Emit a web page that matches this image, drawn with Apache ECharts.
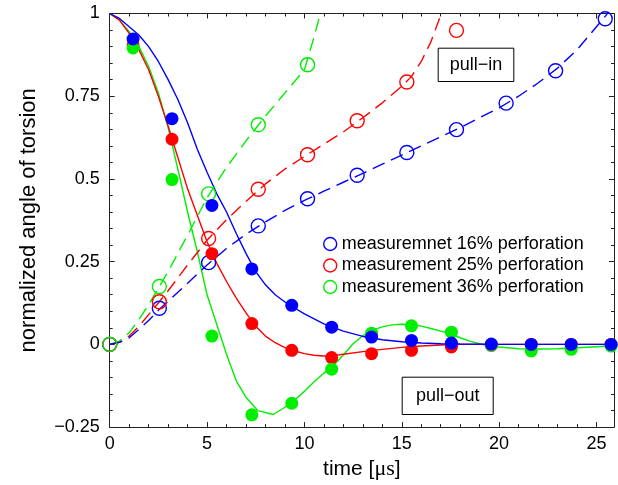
<!DOCTYPE html>
<html>
<head>
<meta charset="utf-8">
<script src="https://cdn.jsdelivr.net/npm/echarts@6/dist/echarts.min.js"></script>
<style>
html,body{margin:0;padding:0;background:#fff;}
#chart{width:618px;height:485px;}
</style>
</head>
<body>
<div id="chart"></div>
<script>
// ---- measured points (filled = pull-out, hollow = pull-in) ----
const tFilled = [1.2, 3.2, 5.25, 7.3, 9.35, 11.4, 13.45, 15.5, 17.55, 19.6, 21.65, 23.7, 25.75];
const blueFilled  = [0.923, 0.682, 0.42, 0.228, 0.118, 0.052, 0.022, 0.012, 0.004, 0.001, 0, 0, 0];
const redFilled   = [0.905, 0.62, 0.274, 0.063, -0.018, -0.04, -0.028, -0.018, -0.008, -0.003, 0, 0, 0];
const greenFilled = [0.896, 0.498, 0.025, -0.213, -0.178, -0.075, 0.034, 0.056, 0.037, -0.002, -0.02, -0.015, -0.005];

const tHollow = [0, 2.55, 5.08, 7.63, 10.16, 12.71, 15.26, 17.81, 20.36, 22.9, 25.45];
const blueHollow  = [0, 0.109, 0.247, 0.358, 0.44, 0.511, 0.58, 0.649, 0.729, 0.827, 0.984];
const redHollow   = [0, 0.129, 0.32, 0.469, 0.573, 0.676, 0.793, 0.949];
const greenHollow = [0, 0.175, 0.455, 0.664, 0.845];

// ---- model curves: solid (pull-out) ----
const blueSolidT = [0,0.5,1,1.5,2,2.5,3,3.5,4,4.5,5,5.5,6,6.5,7,7.5,8,8.5,9,9.5,10,11,12,13,14,15,16,17,18,20,22,24,26];
const blueSolidY = [1,0.985,0.96,0.935,0.9,0.855,0.8,0.74,0.67,0.59,0.52,0.455,0.4,0.335,0.275,0.22,0.18,0.15,0.128,0.11,0.092,0.062,0.04,0.024,0.014,0.008,0.004,0.002,0.001,0,0,0,0];
const redSolidT = [0,0.5,1,1.5,2,2.5,3,3.5,4,4.5,5,5.5,6,6.5,7,7.5,8,8.5,9,9.5,10,10.5,11,11.5,12,13,14,15,16,17,18,20,22,24,26];
const redSolidY = [1,0.98,0.94,0.89,0.83,0.75,0.66,0.565,0.47,0.39,0.31,0.245,0.19,0.14,0.095,0.055,0.025,0.005,-0.01,-0.02,-0.028,-0.033,-0.035,-0.034,-0.03,-0.022,-0.015,-0.009,-0.005,-0.002,0,0,0,0,0];
const greenSolidT = [0,0.5,1,1.5,2,2.5,3,3.5,4,4.5,5,5.5,6,6.5,7,7.6,8.4,9,9.5,10,10.5,11,11.5,12,12.5,13,13.5,14,14.5,15,15.5,16,16.5,17,17.5,18,18.5,19,19.5,20,21,22,23,24,25,26];
const greenSolidY = [1,0.98,0.945,0.9,0.84,0.76,0.655,0.53,0.4,0.28,0.15,0.06,-0.03,-0.11,-0.16,-0.2,-0.212,-0.19,-0.168,-0.142,-0.113,-0.087,-0.063,-0.032,0.002,0.026,0.043,0.053,0.059,0.061,0.06,0.055,0.048,0.04,0.032,0.02,0.01,0.002,-0.004,-0.008,-0.013,-0.014,-0.013,-0.01,-0.007,-0.005];

// ---- model curves: dashed (pull-in) ----
const blueDashT = [0,0.5,1,1.5,2,2.5,3,4,5,6,7,8,9,10,11,12,13,14,15,16,17,18,19,20,21,22,23,24,24.5,25,25.5,26];
const blueDashY = [0,0.006,0.02,0.045,0.072,0.103,0.13,0.185,0.24,0.29,0.333,0.37,0.405,0.435,0.463,0.49,0.517,0.545,0.572,0.6,0.627,0.655,0.685,0.715,0.75,0.79,0.835,0.89,0.925,0.96,0.995,1.04];
const redDashT = [0,0.5,1,1.5,2,2.5,3,4,5,6,7,8,9,10,11,12,13,14,15,15.5,16,16.5,17,17.3];
const redDashY = [0,0.006,0.025,0.055,0.09,0.125,0.162,0.24,0.315,0.377,0.432,0.485,0.53,0.568,0.605,0.642,0.685,0.73,0.78,0.81,0.855,0.915,0.995,1.05];
const greenDashT = [0,0.5,1,1.5,2,2.5,3,4,5,6,7,8,9,10,10.5,11];
const greenDashY = [0,0.01,0.035,0.075,0.12,0.17,0.22,0.33,0.443,0.535,0.615,0.69,0.76,0.83,0.93,1.04];

// ---- labels ----
const legendNames = ['measuremnet 16% perforation', 'measurement 25% perforation', 'measurement 36% perforation'];
const yTickValues = [-0.25, 0, 0.25, 0.5, 0.75, 1];
const yTickLabels = ['\u22120.25', '0', '0.25', '0.5', '0.75', '1'];
const xTickLabels = ['0', '5', '10', '15', '20', '25'];

const BLUE = '#0000ff', RED = '#ff0000', GREEN = '#00ee00';
const FONT = 'Liberation Sans, Arial, Helvetica, sans-serif';

function zip(a, b) { return a.map((v, i) => [v, b[i]]); }
function zipN(a, b) { return b.map((v, i) => [a[i], v]); }

function solid(t, y, c) {
  return { type: 'line', data: zip(t, y), showSymbol: false, symbol: 'none', silent: true,
    lineStyle: { color: c, width: 1.4 }, z: 2, animation: false };
}
function dashed(t, y, c) {
  return { type: 'line', data: zip(t, y), showSymbol: false, symbol: 'none', silent: true,
    lineStyle: { color: c, width: 1.4, type: [13, 7] }, z: 2, animation: false };
}
function hollow(name, t, y, c) {
  return { type: 'scatter', name: name, data: zipN(t, y), symbol: 'circle', symbolSize: 14,
    itemStyle: { color: 'rgba(255,255,255,0)', borderColor: c, borderWidth: 1.4, opacity: 1 }, z: 3, animation: false };
}
function filled(t, y, c) {
  return { type: 'scatter', data: zip(t, y), symbol: 'circle', symbolSize: 13,
    itemStyle: { color: c, opacity: 1 }, z: 4, animation: false };
}

const axisLine = { show: true, onZero: false, lineStyle: { color: '#222', width: 1 } };

const chart = echarts.init(document.getElementById('chart'), null, { renderer: 'canvas' });
chart.setOption({
  backgroundColor: '#fff',
  animation: false,
  grid: { left: 109.7, right: 4, top: 13.5, bottom: 50, containLabel: false },
  xAxis: [
    { type: 'value', min: 0, max: 25.9, interval: 5, position: 'bottom',
      name: 'time [{s|\u03bcs}]', nameLocation: 'middle', nameGap: 18,
      nameTextStyle: { fontFamily: FONT, fontSize: 21, color: '#000',
        rich: { s: { fontFamily: 'Liberation Serif, Times New Roman, serif', fontSize: 22, color: '#000' } } },
      axisLine: axisLine,
      axisTick: { show: true, inside: true, length: 5, lineStyle: { color: '#222' } },
      minorTick: { show: true, splitNumber: 5, length: 3, lineStyle: { color: '#222' } },
      splitLine: { show: false },
      axisLabel: { fontFamily: FONT, fontSize: 18, color: '#000', margin: 8,
        formatter: v => { const i = Math.round(v / 5); return (Math.abs(v - i * 5) < 1e-6 && xTickLabels[i] !== undefined) ? xTickLabels[i] : ''; } } },
    { type: 'value', min: 0, max: 25.9, interval: 5, position: 'top',
      axisLine: axisLine,
      axisTick: { show: true, inside: true, length: 5, lineStyle: { color: '#222' } },
      minorTick: { show: true, splitNumber: 5, length: 3, lineStyle: { color: '#222' } },
      splitLine: { show: false }, axisLabel: { show: false } }
  ],
  yAxis: [
    { type: 'value', min: -0.25, max: 1, interval: 0.25, position: 'left',
      name: 'normalized angle of torsion', nameLocation: 'middle', nameGap: 70, nameRotate: 90,
      nameTextStyle: { fontFamily: FONT, fontSize: 22, color: '#000' },
      axisLine: axisLine,
      axisTick: { show: true, inside: true, length: 5, lineStyle: { color: '#222' } },
      minorTick: { show: true, splitNumber: 5, length: 3, lineStyle: { color: '#222' } },
      splitLine: { show: false },
      axisLabel: { fontFamily: FONT, fontSize: 18, color: '#000', margin: 10,
        formatter: v => { const i = yTickValues.findIndex(t => Math.abs(t - v) < 1e-6); return i >= 0 ? yTickLabels[i] : ''; } } },
    { type: 'value', min: -0.25, max: 1, interval: 0.25, position: 'right',
      axisLine: axisLine,
      axisTick: { show: true, inside: true, length: 5, lineStyle: { color: '#222' } },
      minorTick: { show: true, splitNumber: 5, length: 3, lineStyle: { color: '#222' } },
      splitLine: { show: false }, axisLabel: { show: false } }
  ],
  legend: {
    orient: 'vertical', left: 318, top: 230, itemWidth: 13, itemHeight: 13, itemGap: 3.5,
    selectedMode: false,
    textStyle: { fontFamily: FONT, fontSize: 18, color: '#000', lineHeight: 18 },
    data: [
      { name: legendNames[0], icon: 'circle', itemStyle: { color: 'rgba(255,255,255,0)', borderColor: BLUE, borderWidth: 1.4 } },
      { name: legendNames[1], icon: 'circle', itemStyle: { color: 'rgba(255,255,255,0)', borderColor: RED, borderWidth: 1.4 } },
      { name: legendNames[2], icon: 'circle', itemStyle: { color: 'rgba(255,255,255,0)', borderColor: GREEN, borderWidth: 1.4 } }
    ]
  },
  graphic: [
    { type: 'group', left: 437.7, top: 47.7, children: [
      { type: 'rect', shape: { x: 0, y: 0, width: 75.6, height: 33.3 }, style: { fill: '#fff', stroke: '#000', lineWidth: 1 } },
      { type: 'text', x: 37.8, y: 16.6, style: { text: 'pull\u2212in', font: '18px ' + FONT, fill: '#000', align: 'center', verticalAlign: 'middle' } }
    ] },
    { type: 'group', left: 401.7, top: 376.7, children: [
      { type: 'rect', shape: { x: 0, y: 0, width: 91, height: 37.3 }, style: { fill: '#fff', stroke: '#000', lineWidth: 1 } },
      { type: 'text', x: 45.5, y: 18.6, style: { text: 'pull\u2212out', font: '18px ' + FONT, fill: '#000', align: 'center', verticalAlign: 'middle' } }
    ] }
  ],
  series: [
    solid(greenSolidT, greenSolidY, GREEN),
    solid(redSolidT, redSolidY, RED),
    solid(blueSolidT, blueSolidY, BLUE),
    dashed(greenDashT, greenDashY, GREEN),
    dashed(redDashT, redDashY, RED),
    dashed(blueDashT, blueDashY, BLUE),
    hollow(legendNames[0], tHollow, blueHollow, BLUE),
    hollow(legendNames[1], tHollow, redHollow, RED),
    hollow(legendNames[2], tHollow, greenHollow, GREEN),
    filled(tFilled, redFilled, RED),
    filled(tFilled, greenFilled, GREEN),
    filled(tFilled, blueFilled, BLUE)
  ]
});
</script>
</body>
</html>
